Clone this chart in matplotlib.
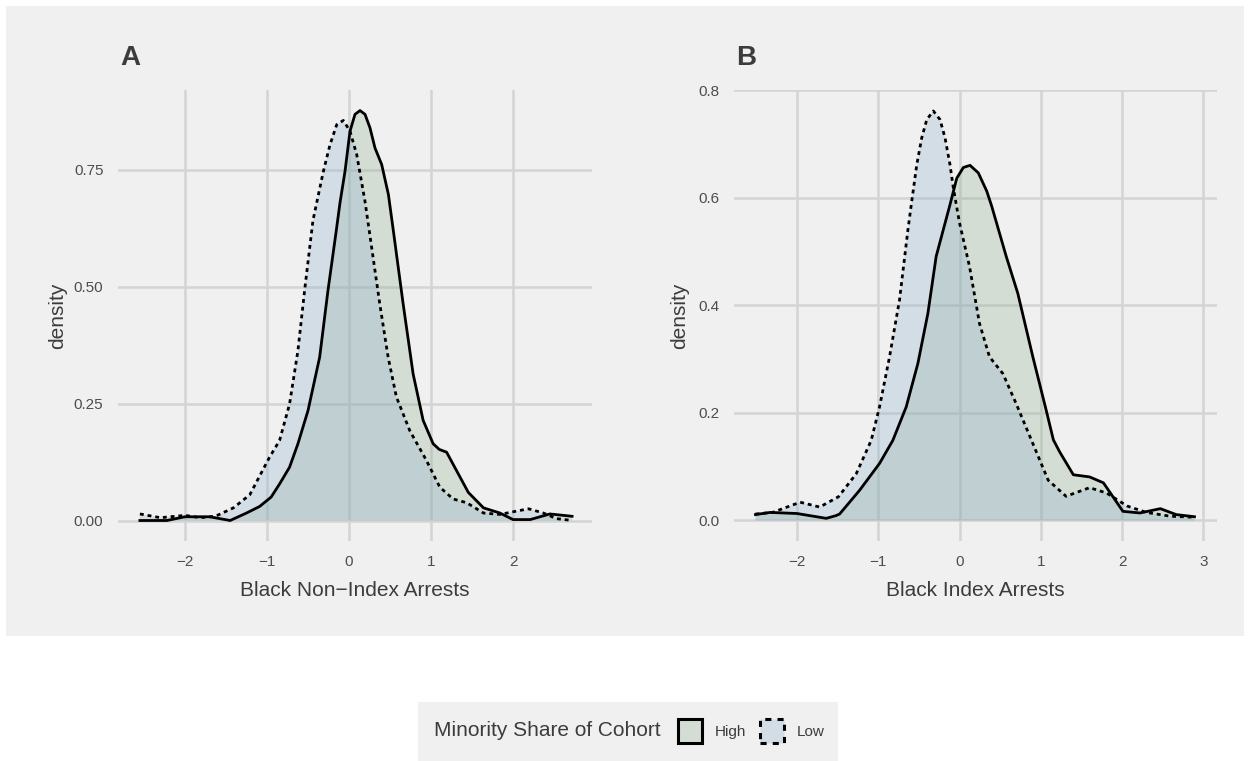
import matplotlib.pyplot as plt
from matplotlib.patches import Patch, Rectangle

plt.rcParams['font.family'] = ['Liberation Sans', 'DejaVu Sans']

# Panel A: Black Non-Index Arrests
a_high_x = [-2.55, -2.22, -2.0, -1.70, -1.45, -1.25, -1.09, -0.95, -0.847, -0.725, -0.623, -0.50,
            -0.358, -0.257, -0.155, -0.11, -0.049, 0.012, 0.073, 0.134, 0.195, 0.256, 0.317, 0.398,
            0.48, 0.54, 0.66, 0.782, 0.904, 1.026, 1.10, 1.19, 1.31, 1.455, 1.64, 1.84, 2.0, 2.21,
            2.45, 2.72]
a_high_y = [0.0, 0.0, 0.008, 0.008, 0.0, 0.016, 0.03, 0.05, 0.078, 0.114, 0.164, 0.235,
            0.349, 0.491, 0.62, 0.679, 0.746, 0.832, 0.868, 0.876, 0.868, 0.839, 0.796, 0.761,
            0.697, 0.62, 0.463, 0.313, 0.214, 0.164, 0.152, 0.146, 0.107, 0.06, 0.027, 0.016, 0.002,
            0.002, 0.014, 0.009]
a_low_x = [-2.55, -2.30, -2.0, -1.82, -1.63, -1.41, -1.21, -0.97, -0.847, -0.725, -0.623, -0.542,
           -0.44, -0.394, -0.313, -0.232, -0.15, -0.069, 0.012, 0.094, 0.195, 0.293, 0.375, 0.477,
           0.578, 0.741, 0.945, 1.108, 1.27, 1.434, 1.64, 1.84, 2.04, 2.19, 2.37, 2.53, 2.72]
a_low_y = [0.014, 0.006, 0.011, 0.006, 0.009, 0.027, 0.055, 0.135, 0.171, 0.249, 0.363, 0.491,
           0.641, 0.679, 0.746, 0.803, 0.846, 0.855, 0.832, 0.782, 0.682, 0.563, 0.463, 0.349,
           0.264, 0.192, 0.128, 0.071, 0.046, 0.038, 0.016, 0.013, 0.02, 0.025, 0.016, 0.004, 0.0]

# Panel B: Black Index Arrests
b_high_x = [-2.51, -2.33, -2.0, -1.64, -1.52, -1.475, -1.23, -0.984, -0.82, -0.656, -0.512, -0.389,
            -0.287, -0.117, -0.034, 0.047, 0.129, 0.231, 0.335, 0.396, 0.574, 0.717, 0.902, 1.066,
            1.154, 1.23, 1.40, 1.60, 1.77, 2.01, 2.22, 2.47, 2.665, 2.89]
b_high_y = [0.011, 0.015, 0.013, 0.004, 0.009, 0.012, 0.056, 0.106, 0.149, 0.211, 0.292, 0.385,
            0.491, 0.587, 0.636, 0.656, 0.66, 0.646, 0.612, 0.584, 0.491, 0.422, 0.304, 0.205,
            0.15, 0.128, 0.085, 0.081, 0.07, 0.017, 0.014, 0.022, 0.011, 0.007]
b_low_x = [-2.51, -2.30, -1.96, -1.72, -1.49, -1.27, -1.086, -0.984, -0.861, -0.738, -0.635, -0.588,
           -0.526, -0.465, -0.403, -0.322, -0.24, -0.178, -0.117, -0.076, 0.0, 0.123, 0.246, 0.369,
           0.533, 0.697, 0.902, 1.09, 1.31, 1.60, 1.81, 2.06, 2.30, 2.59, 2.89]
b_low_y = [0.012, 0.015, 0.034, 0.025, 0.044, 0.087, 0.149, 0.211, 0.304, 0.41, 0.54, 0.593,
           0.661, 0.711, 0.745, 0.761, 0.745, 0.711, 0.661, 0.618, 0.553, 0.472, 0.366, 0.304,
           0.273, 0.217, 0.143, 0.075, 0.045, 0.061, 0.051, 0.027, 0.015, 0.008, 0.006]

a_xticks = [-2, -1, 0, 1, 2]
a_yticks = [0.0, 0.25, 0.5, 0.75]
a_ylabels = ['0.00', '0.25', '0.50', '0.75']
b_xticks = [-2, -1, 0, 1, 2, 3]
b_yticks = [0.0, 0.2, 0.4, 0.6, 0.8]
b_ylabels = ['0.0', '0.2', '0.4', '0.6', '0.8']

high_fill = (0.55, 0.68, 0.55, 0.28)
low_fill = (0.54, 0.68, 0.81, 0.28)
bg = '#f0f0f0'
txt = '#3c3c3c'
grid = '#d4d4d4'

fig = plt.figure(figsize=(12.5, 7.61), dpi=100)
fig.patches.append(Rectangle((6 / 1250, 1 - 636 / 761), 1238 / 1250, 630 / 761,
                             transform=fig.transFigure, facecolor=bg, edgecolor='none', zorder=-10))
fig.patches.append(Rectangle((418 / 1250, 0.0), 420 / 1250, 59 / 761,
                             transform=fig.transFigure, facecolor=bg, edgecolor='none', zorder=-10))

axA = fig.add_axes([118 / 1250, 1 - 541 / 761, 474 / 1250, 451 / 761])
axB = fig.add_axes([734 / 1250, 1 - 541 / 761, 483 / 1250, 451 / 761])

panels = [
    (axA, a_high_x, a_high_y, a_low_x, a_low_y, a_xticks, a_yticks, a_ylabels,
     (-2.817, 2.963), (-0.0438, 0.920), 'A', 'Black Non\u2212Index Arrests', -0.1266),
    (axB, b_high_x, b_high_y, b_low_x, b_low_y, b_xticks, b_yticks, b_ylabels,
     (-2.774, 3.167), (-0.0381, 0.800), 'B', 'Black Index Arrests', -0.1118),
]

for ax, hx, hy, lx, ly, xt, yt, yl, xlim, ylim, title, xlabel, ylab_x in panels:
    ax.set_facecolor('none')
    ax.set_axisbelow(True)
    ax.grid(True, color=grid, linewidth=1.8)
    for s in ax.spines.values():
        s.set_visible(False)
    ax.fill_between(hx, hy, 0, facecolor=high_fill, edgecolor='none')
    ax.fill_between(lx, ly, 0, facecolor=low_fill, edgecolor='none')
    ax.plot(hx, hy, color='black', linewidth=2.0, solid_joinstyle='round')
    ax.plot(lx, ly, color='black', linewidth=2.0, linestyle=(0, (1.4, 1.4)))
    ax.set_xlim(*xlim)
    ax.set_ylim(*ylim)
    ax.set_xticks(xt)
    ax.set_yticks(yt)
    ax.set_yticklabels(yl)
    ax.tick_params(length=0, labelsize=11, labelcolor='#4d4d4d')
    ax.tick_params(axis='y', pad=10.5)
    ax.tick_params(axis='x', pad=10)
    ax.set_xlabel(xlabel, fontsize=15, color=txt)
    ax.xaxis.set_label_coords(0.5, -49 / 451)
    ax.xaxis.label.set_va('center')
    ax.set_ylabel('density', fontsize=15, color=txt)
    ax.yaxis.set_label_coords(ylab_x, 0.5)
    ax.yaxis.label.set_va('center')
    ax.text(0.005, 1 + 32 / 451, title, transform=ax.transAxes, fontsize=20,
            fontweight='bold', color=txt, ha='left', va='center')

fig.text(434 / 1250, 1 - 731 / 761, 'Minority Share of Cohort', fontsize=15, color=txt,
         ha='left', va='center')
handles = [Patch(facecolor=high_fill, edgecolor='black', linewidth=2.2, linestyle='-'),
           Patch(facecolor=low_fill, edgecolor='black', linewidth=2.2, linestyle=(0, (2, 2)))]
leg = fig.legend(handles=handles, labels=['High', 'Low'], ncol=2, frameon=False,
                 loc='center left', bbox_to_anchor=(678 / 1250, 1 - 731 / 761),
                 borderpad=0, borderaxespad=0, handlelength=1.6, handleheight=2.1,
                 handletextpad=0.8, columnspacing=0.9, fontsize=11)
for t in leg.get_texts():
    t.set_color(txt)

fig.savefig('out.png', dpi=100, facecolor='white')
